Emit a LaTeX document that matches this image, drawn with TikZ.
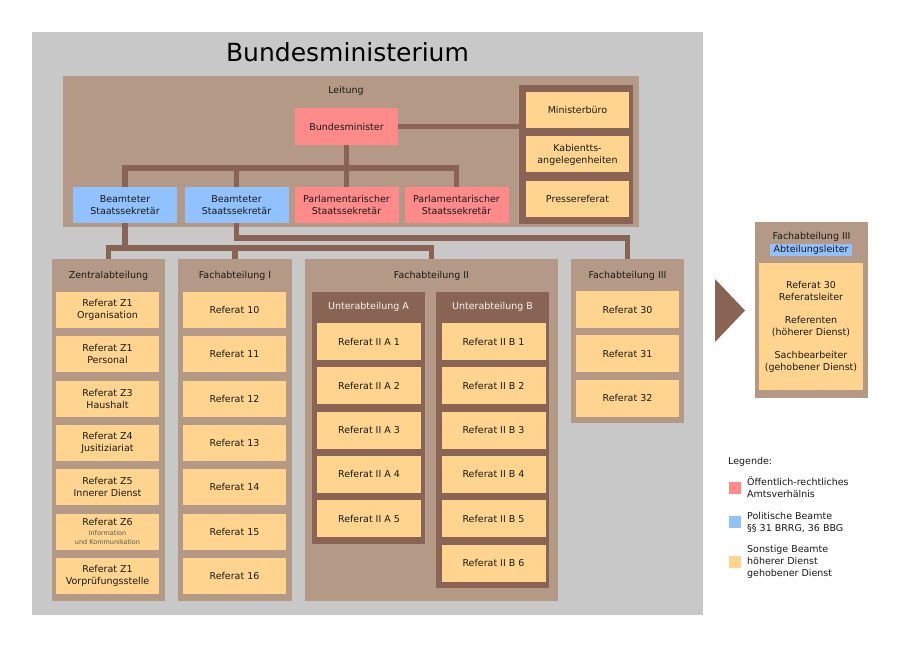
\documentclass[tikz,border=0pt]{standalone}
\usepackage{fontspec}
\setmainfont{DejaVu Sans}
\definecolor{grau}{RGB}{200,200,200}
\definecolor{hbraun}{RGB}{180,154,134}
\definecolor{dbraun}{RGB}{137,99,84}
\definecolor{gelb}{RGB}{255,212,143}
\definecolor{rot}{RGB}{255,138,138}
\definecolor{blau}{RGB}{146,193,255}
\newcommand{\klein}{\fontsize{6.5}{8}\selectfont\color{black!65}}
\begin{document}
\begin{tikzpicture}[x=1pt, y=-1pt,
    every node/.style={font=\fontsize{9.5}{12}\selectfont, text=black!90, inner sep=0pt},
    box/.style={rectangle, minimum width=103, minimum height=36, align=center, fill=gelb},
    panel/.style={rectangle, fill=hbraun},
    conn/.style={draw=dbraun, line width=5.5pt}]
    \fill[white] (0,0) rectangle (900,660);
    \useasboundingbox (0,0) rectangle (900,660);
    \node[fill=grau, minimum width=671, minimum height=583] (bm) at (367.5,323.5) {};
    \node[font=\fontsize{25}{30}\selectfont, text=black, anchor=base] (bmtitel) at (347.5,62) {Bundesministerium};
    % Leitung
    \node[panel, minimum width=576, minimum height=151] (leitung) at (351,151.5) {};
    \node (leitungt) at (346,91) {Leitung};
    \node[box, fill=rot, minimum height=37] (min) at (346.5,126.5) {Bundesminister};
    \node[panel, fill=dbraun, minimum width=114, minimum height=139] (mpanel) at (576,154.5) {};
    \node[box] (mbuero) at (577.5,110)   {Ministerbüro};
    \node[box] (kab)    at (577.5,154.5) {Kabientts-\\angelegenheiten};
    \node[box] (presse) at (577.5,199)   {Pressereferat};
    \foreach \n/\x/\c/\t in {bs1/125/blau/{Beamteter\\Staatssekretär},
                             bs2/236.5/blau/{Beamteter\\Staatssekretär},
                             ps1/346.5/rot/{Parlamentarischer\\Staatssekretär},
                             ps2/456.5/rot/{Parlamentarischer\\Staatssekretär}}
        \node[box, fill=\c, minimum width=104] (\n) at (\x,205) {\t};
    % Abteilungen
    \node[panel, minimum width=113, minimum height=342] (zab) at (108.5,430) {};
    \node[panel, minimum width=114, minimum height=342] (fa1) at (235,430) {};
    \node[panel, minimum width=253, minimum height=342] (fa2) at (431.5,430) {};
    \node[panel, minimum width=113, minimum height=164] (fa3) at (627.5,341) {};
    \node (zabt) at (108.5,276) {Zentralabteilung};
    \node (fa1t) at (235,276)   {Fachabteilung I};
    \node (fa2t) at (431.5,276) {Fachabteilung II};
    \node (fa3t) at (627.5,276) {Fachabteilung III};
    \foreach \i/\t in {1/{Referat Z1\\Organisation}, 2/{Referat Z1\\Personal},
                       3/{Referat Z3\\Haushalt}, 4/{Referat Z4\\Jusitiziariat},
                       5/{Referat Z5\\Innerer Dienst},
                       6/{Referat Z6\\[-2pt]\klein Information\\[-3pt]\klein und Kommunikation},
                       7/{Referat Z1\\Vorprüfungsstelle}}
        \node[box] (z\i) at (107.5,{310+44.3*(\i-1)}) {\t};
    \foreach \i in {10,...,16}
        \node[box] (r\i) at (234.5,{310+44.3*(\i-10)}) {Referat \i};
    \node[panel, fill=dbraun, minimum width=113, minimum height=252] (uaa) at (368.5,418) {};
    \node[panel, fill=dbraun, minimum width=113, minimum height=296] (uab) at (492.5,440) {};
    \node[text=white!90!hbraun] (uaat) at (368.5,307) {Unterabteilung A};
    \node[text=white!90!hbraun] (uabt) at (492.5,307) {Unterabteilung B};
    \foreach \i in {1,...,5}
        \node[box, minimum width=104, minimum height=37] (a\i) at (369,{341.5+44.3*(\i-1)}) {Referat II A \i};
    \foreach \i in {1,...,6}
        \node[box, minimum width=104, minimum height=37] (b\i) at (493.5,{341.5+44.3*(\i-1)}) {Referat II B \i};
    \foreach \i in {30,31,32}
        \node[box, minimum height=37] (r\i) at (627.5,{309.5+44.3*(\i-30)}) {Referat \i};
    % Verbindungen
    \coordinate (bar1) at (0,168);
    \coordinate (bar2) at (0,248);
    \coordinate (bar3) at (0,238);
    \draw[conn] (min.east) -- (mpanel.west |- min.east);
    \draw[conn] (min.south) -- (ps1.north);
    \draw[conn] (bs1.north) -- (bs1.north |- bar1) -- (ps2.north |- bar1) -- (ps2.north);
    \draw[conn] (bs2.north) -- (bs2.north |- bar1);
    \draw[conn] (bs1.south) -- (bs1.south |- bar2);
    \draw[conn] (zab.north) -- (zab.north |- bar2) -- (fa2.north |- bar2) -- (fa2.north);
    \draw[conn] (fa1.north) -- (fa1.north |- bar2);
    \draw[conn] (bs2.south) |- (fa3.north |- bar3) -- (fa3.north);
    % Detail
    \fill[dbraun] (715,279) -- (745,310.5) -- (715,342) -- cycle;
    \node[panel, minimum width=113, minimum height=176] (fa3d) at (811.5,310) {};
    \node (fa3dt) at (811.5,237) {Fachabteilung III};
    \node[fill=blau, minimum width=82, minimum height=12] (al) at (811,250) {Abteilungsleiter};
    \node[box, minimum width=104, minimum height=127] (d30) at (811,326.5)
        {Referat 30\\Referatsleiter\\[11pt]Referenten\\(höherer Dienst)\\[11pt]Sachbearbeiter\\(gehobener Dienst)};
    % Legende
    \node[anchor=west] (leg) at (728,462) {Legende:};
    \foreach \n/\y/\c in {lr/487.5/rot, lb/521.5/blau, lg/562/gelb}
        \node[fill=\c, minimum size=12] (\n) at (734.5,\y) {};
    \node[anchor=west, align=left] (lrt) at (747,487) {Öffentlich-rechtliches\\Amtsverhälnis};
    \node[anchor=west, align=left] (lbt) at (747,522) {Politische Beamte\\§§ 31 BRRG, 36 BBG};
    \node[anchor=west, align=left] (lgt) at (747,562) {Sonstige Beamte\\höherer Dienst\\gehobener Dienst};
\end{tikzpicture}
\end{document}
